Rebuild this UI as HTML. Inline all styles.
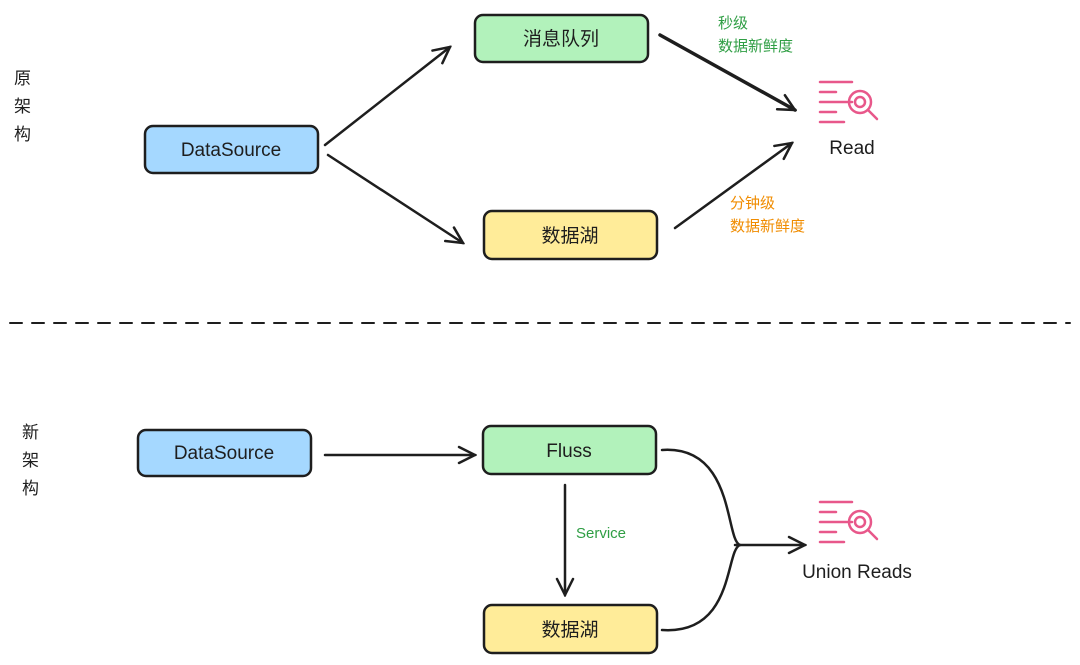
<!DOCTYPE html>
<html><head><meta charset="utf-8"><style>
body{margin:0;background:#fff;}
svg{display:block;font-family:"Liberation Sans","Noto Sans CJK SC",sans-serif;}
</style></head><body>
<svg width="1080" height="665" viewBox="0 0 1080 665">
<defs>
<marker id="a" viewBox="0 0 20 20" refX="18" refY="10" markerWidth="20" markerHeight="20" markerUnits="userSpaceOnUse" orient="auto">
<path d="M2,2 L18,10 L2,18" fill="none" stroke="#1e1e1e" stroke-width="2.5" stroke-linecap="round"/>
</marker>
<g id="ic" fill="none" stroke="#e8578a" stroke-width="2.5" stroke-linecap="round">
<path d="M0,0H32M0,10H16M0,20H32M0,30H16M0,40H24"/>
<circle cx="40" cy="20" r="11"/><circle cx="40" cy="20" r="5"/>
<path d="M48,28L57,37"/>
</g>
</defs>
<g stroke="#1e1e1e" stroke-width="2.5">
<rect x="145" y="126" width="173" height="47" rx="8" fill="#a5d8ff"/>
<rect x="475" y="15" width="173" height="47" rx="8" fill="#b2f2bb"/>
<rect x="484" y="211" width="173" height="48" rx="8" fill="#ffec99"/>
<rect x="138" y="430" width="173" height="46" rx="8" fill="#a5d8ff"/>
<rect x="483" y="426" width="173" height="48" rx="8" fill="#b2f2bb"/>
<rect x="484" y="605" width="173" height="48" rx="8" fill="#ffec99"/>
</g>
<g font-size="19" fill="#1e1e1e" text-anchor="middle">
<text x="231" y="156">DataSource</text>
<text x="561" y="45">消息队列</text>
<text x="570" y="242">数据湖</text>
<text x="224" y="459">DataSource</text>
<text x="569" y="457">Fluss</text>
<text x="570" y="636">数据湖</text>
<text x="852" y="154">Read</text>
<text x="857" y="578">Union Reads</text>
</g>
<g font-size="17" fill="#1e1e1e">
<text x="14" y="84">原</text><text x="14" y="112">架</text><text x="14" y="140">构</text>
<text x="22" y="438">新</text><text x="22" y="466">架</text><text x="22" y="494">构</text>
</g>
<g fill="none" stroke="#1e1e1e" stroke-width="2.5" stroke-linecap="round">
<path d="M325,145 L450,47" marker-end="url(#a)"/>
<path d="M328,155 L463,243" marker-end="url(#a)"/>
<path d="M660,35 L795,110" marker-end="url(#a)" stroke-width="3.5"/>
<path d="M675,228 L792,143" marker-end="url(#a)"/>
<path d="M10,323 H1070" stroke-dasharray="12,10" stroke-width="2"/>
<path d="M325,455 L475,455" marker-end="url(#a)"/>
<path d="M565,485 L565,595" marker-end="url(#a)"/>
<path d="M662,450 C735,445 725,540 740,545"/>
<path d="M662,630 C735,635 725,550 740,545"/>
<path d="M735,545 L805,545" marker-end="url(#a)"/>
</g>
<use href="#ic" x="820" y="82"/>
<use href="#ic" x="820" y="502"/>
<g font-size="15" fill="#2f9e44">
<text x="718" y="28">秒级</text><text x="718" y="51">数据新鲜度</text>
<text x="576" y="538">Service</text>
</g>
<g font-size="15" fill="#f08c00">
<text x="730" y="208">分钟级</text><text x="730" y="231">数据新鲜度</text>
</g>
</svg>
</body></html>
